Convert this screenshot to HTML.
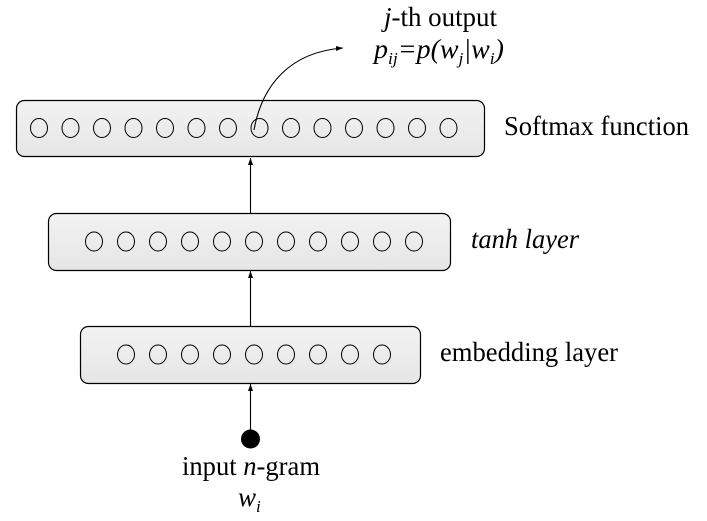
<!DOCTYPE html>
<html><head><meta charset="utf-8"><style>
html,body{margin:0;padding:0;background:#fff;}
svg{display:block;font-family:"Liberation Serif",serif;}
</style></head><body>
<svg width="707" height="521" viewBox="0 0 707 521" xmlns="http://www.w3.org/2000/svg">
<defs>
<marker id="ah" markerWidth="8" markerHeight="8" refX="7" refY="4" orient="auto" markerUnits="userSpaceOnUse">
<path d="M0,1.5 L7,4 L0,6.5 z" fill="#000"/>
</marker>
<linearGradient id="g" x1="0" y1="0" x2="0" y2="1"><stop offset="0" stop-color="#f2f2f2"/><stop offset="1" stop-color="#e6e6e6"/></linearGradient>
</defs>
<g fill="url(#g)" stroke="#000" stroke-width="1.2">
<rect x="16.5" y="100.5" width="468" height="56" rx="8"/>
<rect x="48.5" y="213.5" width="402" height="57" rx="8"/>
<rect x="80.5" y="326.5" width="340" height="57" rx="8"/>
</g>
<g fill="none" stroke="#000" stroke-width="1">
<ellipse cx="39" cy="128" rx="8.5" ry="9.5"/><ellipse cx="70.5" cy="128" rx="8.5" ry="9.5"/><ellipse cx="102" cy="128" rx="8.5" ry="9.5"/><ellipse cx="133.5" cy="128" rx="8.5" ry="9.5"/><ellipse cx="165" cy="128" rx="8.5" ry="9.5"/><ellipse cx="196.5" cy="128" rx="8.5" ry="9.5"/><ellipse cx="228" cy="128" rx="8.5" ry="9.5"/><ellipse cx="259.5" cy="128" rx="8.5" ry="9.5"/><ellipse cx="291" cy="128" rx="8.5" ry="9.5"/><ellipse cx="322.5" cy="128" rx="8.5" ry="9.5"/><ellipse cx="354" cy="128" rx="8.5" ry="9.5"/><ellipse cx="385.5" cy="128" rx="8.5" ry="9.5"/><ellipse cx="417" cy="128" rx="8.5" ry="9.5"/><ellipse cx="448.5" cy="128" rx="8.5" ry="9.5"/>
<ellipse cx="94" cy="241.5" rx="8.5" ry="9.5"/><ellipse cx="126" cy="241.5" rx="8.5" ry="9.5"/><ellipse cx="158" cy="241.5" rx="8.5" ry="9.5"/><ellipse cx="190" cy="241.5" rx="8.5" ry="9.5"/><ellipse cx="222" cy="241.5" rx="8.5" ry="9.5"/><ellipse cx="254" cy="241.5" rx="8.5" ry="9.5"/><ellipse cx="286" cy="241.5" rx="8.5" ry="9.5"/><ellipse cx="318" cy="241.5" rx="8.5" ry="9.5"/><ellipse cx="350" cy="241.5" rx="8.5" ry="9.5"/><ellipse cx="382" cy="241.5" rx="8.5" ry="9.5"/><ellipse cx="414" cy="241.5" rx="8.5" ry="9.5"/>
<ellipse cx="126" cy="354.5" rx="8.5" ry="9.5"/><ellipse cx="158" cy="354.5" rx="8.5" ry="9.5"/><ellipse cx="190" cy="354.5" rx="8.5" ry="9.5"/><ellipse cx="222" cy="354.5" rx="8.5" ry="9.5"/><ellipse cx="254" cy="354.5" rx="8.5" ry="9.5"/><ellipse cx="286" cy="354.5" rx="8.5" ry="9.5"/><ellipse cx="318" cy="354.5" rx="8.5" ry="9.5"/><ellipse cx="350" cy="354.5" rx="8.5" ry="9.5"/><ellipse cx="382" cy="354.5" rx="8.5" ry="9.5"/>
</g>
<g stroke="#000" stroke-width="1.1" fill="none" marker-end="url(#ah)">
<line x1="250.5" y1="213" x2="250.5" y2="158"/>
<line x1="250.5" y1="326" x2="250.5" y2="271"/>
<line x1="250.5" y1="430" x2="250.5" y2="384"/>
<path d="M254,130 C262,85 290,52 343,48"/>
</g>
<circle cx="250.5" cy="439" r="9.5" fill="#000"/>
<g font-size="27" fill="#000">
<text x="384" y="26" textLength="113" lengthAdjust="spacingAndGlyphs"><tspan font-style="italic">j</tspan>-th output</text>
<text x="374" y="58" font-style="italic" textLength="130" lengthAdjust="spacingAndGlyphs">p<tspan font-size="17" dy="6">ij</tspan><tspan dy="-6">=p(w</tspan><tspan font-size="17" dy="6">j</tspan><tspan dy="-6">|w</tspan><tspan font-size="17" dy="6">i</tspan><tspan dy="-6">)</tspan></text>
<text x="504" y="135" textLength="185" lengthAdjust="spacingAndGlyphs">Softmax function</text>
<text x="471" y="248" font-style="italic" textLength="108" lengthAdjust="spacingAndGlyphs">tanh layer</text>
<text x="440" y="361" textLength="178" lengthAdjust="spacingAndGlyphs">embedding layer</text>
<text x="182" y="475" textLength="138" lengthAdjust="spacingAndGlyphs">input <tspan font-style="italic">n</tspan>-gram</text>
<text x="238" y="506" font-style="italic">w<tspan font-size="17" dy="6">i</tspan></text>
</g>
</svg>
</body></html>
